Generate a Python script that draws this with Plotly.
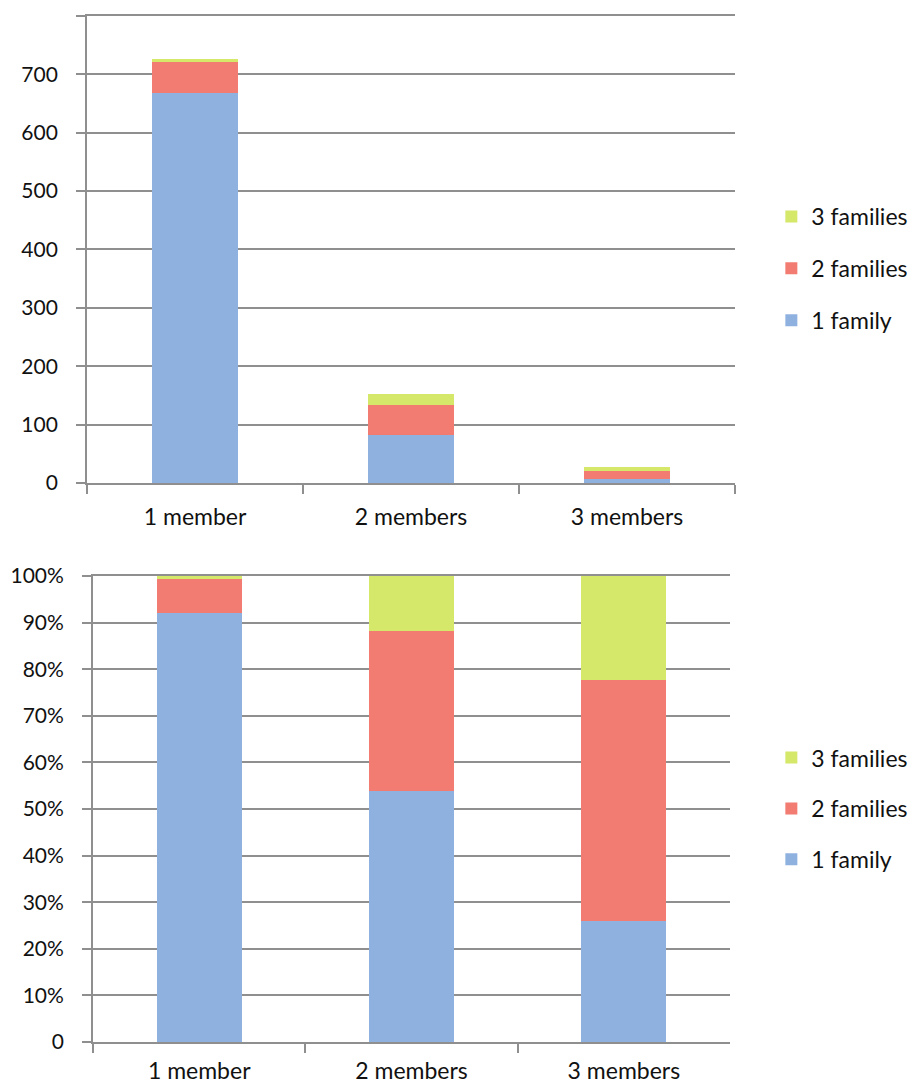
import plotly.graph_objects as go

categories = ["1 member", "2 members", "3 members"]
one_family = [668, 82, 7]
two_families = [53, 52, 14]
three_families = [5, 18, 6]
series_names = ["1 family", "2 families", "3 families"]
top_ticks = [0, 100, 200, 300, 400, 500, 600, 700, 800]
top_ticktext = ["0", "100", "200", "300", "400", "500", "600", "700", ""]
pct_ticks = [0, 10, 20, 30, 40, 50, 60, 70, 80, 90, 100]
pct_ticktext = ["0", "10%", "20%", "30%", "40%", "50%", "60%", "70%", "80%", "90%", "100%"]

colors = ["#8fb1e0", "#f27b72", "#d5e86a"]
series = [one_family, two_families, three_families]
totals = [a + b + c for a, b, c in zip(one_family, two_families, three_families)]

FONT = "Lato"
GRID = "#8f8f8f"

fig = go.Figure()
for i, (name, vals, col) in enumerate(zip(series_names, series, colors)):
    fig.add_trace(go.Bar(
        x=categories, y=vals, name=name, marker=dict(color=col, line=dict(width=0)),
        xaxis="x", yaxis="y", legend="legend", legendgroup="top_" + name,
        legendrank=10 - i, width=0.4,
    ))
for i, (name, vals, col) in enumerate(zip(series_names, series, colors)):
    pct = [v / t * 100 for v, t in zip(vals, totals)]
    fig.add_trace(go.Bar(
        x=categories, y=pct, name=name, marker=dict(color=col, line=dict(width=0)),
        xaxis="x2", yaxis="y2", legend="legend2", legendgroup="bot_" + name,
        legendrank=10 - i, width=0.4,
    ))

xcommon = dict(
    type="category", showline=True, linecolor=GRID, linewidth=2, mirror=True,
    ticks="outside", tickson="boundaries", ticklen=9, tickwidth=2, tickcolor=GRID,
    showgrid=False, automargin=False,
    tickfont=dict(family=FONT, size=23, color="#111111"),
)
ycommon = dict(
    showline=True, linecolor=GRID, linewidth=2,
    ticks="outside", ticklen=9, tickwidth=2, tickcolor=GRID,
    showgrid=True, gridcolor=GRID, gridwidth=2, zeroline=False,
    automargin=False, ticklabelstandoff=14,
    tickfont=dict(family=FONT, size=21, color="#111111"),
)

fig.update_layout(
    width=922, height=1087,
    margin=dict(l=0, r=0, t=0, b=0, autoexpand=False),
    paper_bgcolor="white", plot_bgcolor="white",
    barmode="stack",
    showlegend=True,
    xaxis=dict(domain=[0.0944, 0.7972], anchor="y", ticklabelstandoff=12, **xcommon),
    yaxis=dict(domain=[0.5557, 0.9853], anchor="x", range=[0, 800],
               tickvals=top_ticks, ticktext=top_ticktext, **ycommon),
    xaxis2=dict(domain=[0.1009, 0.7918], anchor="y2", ticklabelstandoff=7, **xcommon),
    yaxis2=dict(domain=[0.0414, 0.4701], anchor="x2", range=[0, 100],
                tickvals=pct_ticks, ticktext=pct_ticktext, **ycommon),
    legend=dict(x=0.8366, y=0.8206, xanchor="left", yanchor="top",
                traceorder="grouped", tracegroupgap=19,
                font=dict(family=FONT, size=23, color="#111111"),
                bgcolor="rgba(0,0,0,0)"),
    legend2=dict(x=0.8366, y=0.3228, xanchor="left", yanchor="top",
                 traceorder="grouped", tracegroupgap=18,
                 font=dict(family=FONT, size=23, color="#111111"),
                 bgcolor="rgba(0,0,0,0)"),
)

fig.write_html(
    "out.html",
    config={"displayModeBar": False},
    post_script="document.body.style.margin='0';document.body.style.overflow='hidden';",
)
